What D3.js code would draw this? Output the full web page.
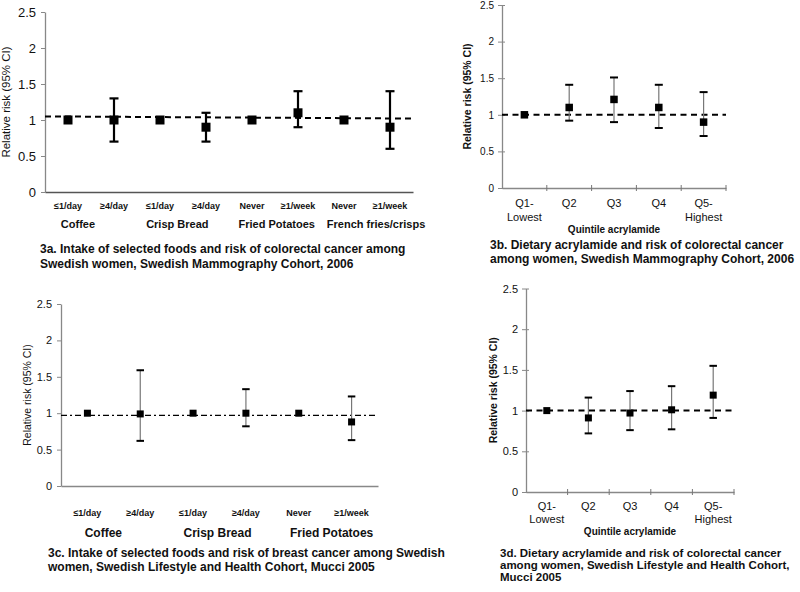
<!DOCTYPE html>
<html>
<head>
<meta charset="utf-8">
<script src="https://cdn.jsdelivr.net/npm/d3@7"></script>
<style>
  body { margin: 0; background: #fff; }
  text { font-family: "Liberation Sans", Arial, sans-serif; fill: #111; }
</style>
</head>
<body>
<div id="chart"></div>
<script>
// relative risk charts, four panels

const yTicks = [0, 0.5, 1, 1.5, 2, 2.5];

// 3a
const catsA = ["≤1/day", "≥4/day", "≤1/day", "≥4/day", "Never", "≥1/week", "Never", "≥1/week"];
const groupsA = ["Coffee", "Crisp Bread", "Fried Potatoes", "French fries/crisps"];
const rrA = [1, 1, 1, 0.9, 1, 1.1, 1, 0.9];
const loA = [null, 0.7, null, 0.7, null, 0.9, null, 0.6];
const hiA = [null, 1.3, null, 1.1, null, 1.4, null, 1.4];
const refA = [1.05, 1.02];
const captionA = ["3a. Intake of selected foods and risk of colorectal cancer among",
                  "Swedish women, Swedish Mammography Cohort, 2006"];

// 3b
const quintTop = ["Q1-", "Q2", "Q3", "Q4", "Q5-"];
const quintBottom = ["Lowest", "", "", "", "Highest"];
const rrB = [1, 1.1, 1.21, 1.1, 0.9];
const loB = [null, 0.92, 0.9, 0.82, 0.71];
const hiB = [null, 1.41, 1.51, 1.41, 1.31];
const refB = [1, 1];
const captionB = ["3b. Dietary acrylamide and risk of colorectal cancer",
                  "among women, Swedish Mammography Cohort, 2006"];

// 3c
const catsC = ["≤1/day", "≥4/day", "≤1/day", "≥4/day", "Never", "≥1/week"];
const groupsC = ["Coffee", "Crisp Bread", "Fried Potatoes"];
const rrC = [1, 0.99, 1, 1, 1, 0.88];
const loC = [null, 0.62, null, 0.82, null, 0.63];
const hiC = [null, 1.59, null, 1.33, null, 1.23];
const refC = [0.97, 0.97];
const captionC = ["3c. Intake of selected foods and risk of breast cancer among Swedish",
                  "women, Swedish Lifestyle and Health Cohort, Mucci 2005"];

// 3d
const rrD = [1, 0.91, 0.97, 1.01, 1.19];
const loD = [null, 0.72, 0.76, 0.77, 0.91];
const hiD = [null, 1.16, 1.24, 1.3, 1.55];
const refD = [1, 1];
const captionD = ["3d. Dietary acrylamide and risk of colorectal cancer",
                  "among women, Swedish Lifestyle and Health Cohort,",
                  "Mucci 2005"];

const width = 800, height = 592;

const svg = d3.select("#chart")
    .append("svg")
    .attr("width", width)
    .attr("height", height);

function panel(o) {
    const g = svg.append("g");

    let x = d3.scaleBand()
        .domain(d3.range(o.rr.length))
        .range([o.x0, o.x1]);

    let y = d3.scaleLinear()
        .domain([0, 2.5])
        .range([o.yBot, o.yTop]);

    // y axis
    const ya = g.append("g")
        .attr("transform", `translate(${o.x0},0)`)
        .call(d3.axisLeft(y).tickValues(yTicks).tickFormat(d3.format("")).tickSize(o.tickLen).tickSizeOuter(0).tickPadding(o.tickPad));
    ya.select(".domain").attr("stroke", "#888").attr("stroke-width", 1.3);
    ya.selectAll(".tick line").attr("stroke", "#888");
    if (o.boundTicks) ya.selectAll(".tick line").attr("x1", 3);
    ya.selectAll(".tick text")
        .style("font-size", o.tickFont + "px")
        .style("font-family", "'Liberation Sans', Arial, sans-serif")
        .attr("fill", "#111");

    // x axis line
    const xa = g.append("g")
        .attr("transform", `translate(0,${o.yBot})`)
        .call(d3.axisBottom(x).tickValues([]).tickSizeOuter(0));
    xa.select(".domain").attr("stroke", o.xAxisColor).attr("stroke-width", 1.3);

    if (o.boundTicks) {
        g.append("g")
            .selectAll("line")
            .data(d3.range(1, o.rr.length + 1))
            .join("line")
            .attr("x1", i => i < o.rr.length ? x(i) : o.x1)
            .attr("x2", i => i < o.rr.length ? x(i) : o.x1)
            .attr("y1", o.yBot - 3)
            .attr("y2", o.yBot + 3)
            .attr("stroke", "#777")
            .attr("stroke-width", 1);
    }

    // y label
    g.append("text")
        .attr("transform", `translate(${o.ylabX},${(o.yTop + o.yBot) / 2}) rotate(-90)`)
        .attr("text-anchor", "middle")
        .style("font-size", o.ylabFont + "px")
        .style("font-weight", o.ylabBold ? "bold" : "normal")
        .text("Relative risk (95% CI)");

    // reference line
    g.append("line")
        .attr("x1", o.x0)
        .attr("x2", o.x1)
        .attr("y1", y(o.ref[0]))
        .attr("y2", y(o.ref[1]))
        .attr("stroke", "#000")
        .attr("stroke-width", o.refWidth)
        .attr("stroke-dasharray", o.refDash);

    const cx = i => x(i) + x.bandwidth() / 2;
    const idx = d3.range(o.rr.length).filter(i => o.lo[i] != null);

    // error bars
    g.append("g")
        .selectAll("line")
        .data(idx)
        .join("line")
        .attr("x1", cx).attr("x2", cx)
        .attr("y1", i => y(o.lo[i]))
        .attr("y2", i => y(o.hi[i]))
        .attr("stroke", o.stemColor)
        .attr("stroke-width", o.stemWidth);

    const caps = idx.flatMap(i => [o.lo[i], o.hi[i]].map(v => ({ i, v })));
    g.append("g")
        .selectAll("line")
        .data(caps)
        .join("line")
        .attr("x1", d => cx(d.i) - o.capW / 2)
        .attr("x2", d => cx(d.i) + o.capW / 2)
        .attr("y1", d => y(d.v))
        .attr("y2", d => y(d.v))
        .attr("stroke", "#000")
        .attr("stroke-width", o.capStroke);

    // markers
    g.append("g")
        .selectAll("rect")
        .data(o.rr)
        .join("rect")
        .attr("x", (d, i) => cx(i) - o.mark / 2)
        .attr("y", d => y(d) - o.mark / 2)
        .attr("width", o.mark)
        .attr("height", o.mark)
        .attr("fill", "#000");

    // category labels
    g.append("g")
        .selectAll("text")
        .data(o.cats)
        .join("text")
        .attr("x", (d, i) => cx(i))
        .attr("y", o.catY)
        .attr("text-anchor", "middle")
        .style("font-size", o.catFont + "px")
        .style("font-weight", o.catBold ? "bold" : "normal")
        .text(d => d);

    if (o.cats2) {
        g.append("g")
            .selectAll("text")
            .data(o.cats2)
            .join("text")
            .attr("x", (d, i) => cx(i))
            .attr("y", o.cat2Y)
            .attr("text-anchor", "middle")
            .style("font-size", o.catFont + "px")
            .text(d => d);
    }

    if (o.groups) {
        // group labels are spread a bit wider than the pairs, as in the source
        const mid = (o.x0 + o.x1) / 2;
        g.append("g")
            .selectAll("text")
            .data(o.groups)
            .join("text")
            .attr("x", (d, k) => mid + (x(2 * k) + x.bandwidth() - mid) * 1.08 - 2)
            .attr("y", o.groupY)
            .attr("text-anchor", "middle")
            .style("font-size", o.groupFont + "px")
            .style("font-weight", "bold")
            .text(d => d);
    }

    if (o.xTitle) {
        g.append("text")
            .attr("x", (o.x0 + o.x1) / 2)
            .attr("y", o.xTitleY)
            .attr("text-anchor", "middle")
            .style("font-size", "10px")
            .style("font-weight", "bold")
            .text(o.xTitle);
    }

    // caption
    g.append("g")
        .selectAll("text")
        .data(o.caption)
        .join("text")
        .attr("x", o.capX)
        .attr("y", (d, i) => o.capY + i * o.capGap)
        .style("font-size", o.capFont + "px")
        .style("font-weight", "bold")
        .text(d => d);
}

panel({
    rr: rrA, lo: loA, hi: hiA, ref: refA, cats: catsA, groups: groupsA, caption: captionA,
    x0: 45, x1: 413, yTop: 12, yBot: 192, xAxisColor: "#555",
    tickLen: 4, tickPad: 5, tickFont: 13,
    ylabX: 10, ylabFont: 11.5, ylabBold: false,
    refWidth: 2, refDash: "6,4",
    stemColor: "#000", stemWidth: 2.2, capW: 9, capStroke: 2.2, mark: 9,
    catY: 209, catFont: 9, catBold: true,
    groupY: 228, groupFont: 11,
    capX: 40, capY: 253, capGap: 14.5, capFont: 12
});

panel({
    rr: rrB, lo: loB, hi: hiB, ref: refB, cats: quintTop, cats2: quintBottom, caption: captionB,
    x0: 502, x1: 726, yTop: 5, yBot: 188, boundTicks: true, xAxisColor: "#888",
    tickLen: 4, tickPad: 4, tickFont: 10,
    ylabX: 471, ylabFont: 10.5, ylabBold: true,
    refWidth: 2, refDash: "6,4.5",
    stemColor: "#777", stemWidth: 1.2, capW: 8, capStroke: 2, mark: 7.5,
    catY: 207, cat2Y: 221, catFont: 11, catBold: false,
    xTitle: "Quintile acrylamide", xTitleY: 233,
    capX: 490, capY: 249, capGap: 14, capFont: 12
});

panel({
    rr: rrC, lo: loC, hi: hiC, ref: refC, cats: catsC, groups: groupsC, caption: captionC,
    x0: 61, x1: 378, yTop: 304, yBot: 486, xAxisColor: "#888",
    tickLen: 4, tickPad: 5, tickFont: 11,
    ylabX: 31, ylabFont: 10.5, ylabBold: false,
    refWidth: 1.3, refDash: "6,3,2,3",
    stemColor: "#777", stemWidth: 1.2, capW: 7.5, capStroke: 2, mark: 7,
    catY: 516, catFont: 9, catBold: true,
    groupY: 537, groupFont: 12,
    capX: 48, capY: 557, capGap: 13.5, capFont: 12
});

panel({
    rr: rrD, lo: loD, hi: hiD, ref: refD, cats: quintTop, cats2: quintBottom, caption: captionD,
    x0: 526, x1: 734, yTop: 288.5, yBot: 492, boundTicks: true, xAxisColor: "#888",
    tickLen: 4, tickPad: 4, tickFont: 11,
    ylabX: 497, ylabFont: 10.5, ylabBold: true,
    refWidth: 2, refDash: "6,4.5",
    stemColor: "#777", stemWidth: 1.2, capW: 7.5, capStroke: 2, mark: 7,
    catY: 510, cat2Y: 523, catFont: 11, catBold: false,
    xTitle: "Quintile acrylamide", xTitleY: 535,
    capX: 500, capY: 557, capGap: 12, capFont: 11.5
});
</script>
</body>
</html>
